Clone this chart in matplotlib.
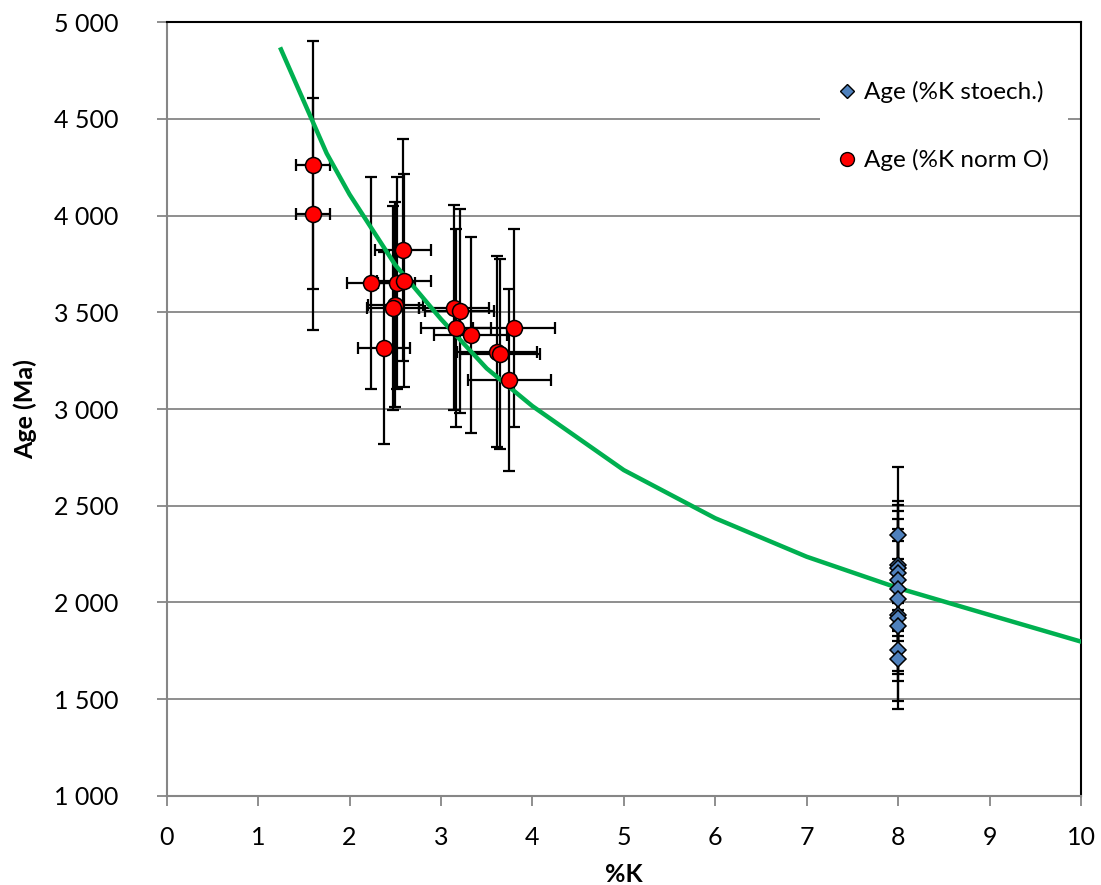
import numpy as np
import matplotlib
matplotlib.use("Agg")
import matplotlib.pyplot as plt
from matplotlib.lines import Line2D
from matplotlib.ticker import FuncFormatter, MultipleLocator

plt.rcParams['font.family'] = ['Lato', 'DejaVu Sans']

# --- data ---
# Age (%K norm O): red circles
k_norm = [1.60, 1.60, 2.585, 2.24, 2.515, 2.596, 2.50, 2.475, 2.38,
          3.14, 3.205, 3.165, 3.325, 3.796, 3.614, 3.643, 3.749]
age_norm = [4262, 4007, 3821, 3650, 3650, 3664, 3539, 3521, 3315,
            3524, 3507, 3420, 3383, 3420, 3296, 3284, 3150]
age_norm_err = [640, 600, 573, 548, 548, 550, 531, 528, 497,
                529, 526, 513, 507, 513, 494, 493, 473]
k_norm_err = [0.19, 0.19, 0.31, 0.27, 0.20, 0.30, 0.30, 0.28, 0.285,
              0.38, 0.38, 0.38, 0.40, 0.45, 0.44, 0.44, 0.45]

# Age (%K stoech.): blue diamonds
k_stoech = [8, 8, 8, 8, 8, 8, 8, 8, 8, 8, 8, 8]
age_stoech = [2348, 2193, 2179, 2150, 2115, 2067, 2016, 1934, 1917, 1877, 1753, 1705]
age_stoech_err = [352, 329, 327, 323, 317, 310, 302, 290, 288, 282, 263, 256]

# green reference curve
k_curve = [1.25, 1.75, 2.0, 2.5, 3.0, 3.5, 4.0, 5.0, 6.0, 7.0, 8.0, 9.0, 10.0]
age_curve = [4860, 4322, 4110, 3745, 3465, 3210, 3015, 2684, 2435, 2236, 2074, 1935, 1797]

fig = plt.figure(figsize=(11.01, 8.85), dpi=100)
ax = fig.add_axes([0.1514, 0.1009, 0.9818 - 0.1514, 0.9748 - 0.1009])

grid_col = '#868686'

# error bars under the curve, markers on top
ax.errorbar(k_norm, age_norm, yerr=age_norm_err, xerr=k_norm_err, fmt='none',
            ecolor='black', elinewidth=1.6, capsize=4.5, capthick=1.6, zorder=2)
ax.errorbar(k_stoech, age_stoech, yerr=age_stoech_err, fmt='none',
            ecolor='black', elinewidth=1.6, capsize=4.5, capthick=1.6, zorder=2)

ax.plot(k_curve, age_curve, color='#00B050', lw=3.2, zorder=3,
        solid_joinstyle='round')

ax.plot(k_norm, age_norm, 'o', ms=11.5, mfc='#FF0000', mec='black', mew=1.1,
        ls='none', zorder=4)
ax.plot(k_stoech, age_stoech, 'D', ms=8.5, mfc='#4F81BD', mec='black', mew=1.1,
        ls='none', zorder=4)

ax.set_xlim(0, 10)
ax.set_ylim(1000, 5000)
ax.xaxis.set_major_locator(MultipleLocator(1))
ax.yaxis.set_major_locator(MultipleLocator(500))
ax.yaxis.set_major_formatter(FuncFormatter(lambda v, p: f"{int(v):,}".replace(",", " ")))

ax.grid(axis='y', color=grid_col, lw=1.3, zorder=0)
ax.set_axisbelow(True)

for s in ['top', 'right']:
    ax.spines[s].set_color('black')
    ax.spines[s].set_linewidth(1.5)
for s in ['left', 'bottom']:
    ax.spines[s].set_color(grid_col)
    ax.spines[s].set_linewidth(1.5)

ax.tick_params(axis='y', direction='out', length=7, width=1.3, color=grid_col,
               labelsize=18, pad=28)
ax.tick_params(axis='x', direction='out', length=7, width=1.3, color=grid_col,
               labelsize=18, pad=15)

ax.set_xlabel('%K', fontsize=18, fontweight='bold', labelpad=10)
ax.set_ylabel('Age (Ma)', fontsize=18, fontweight='bold', labelpad=12)

handles = [
    Line2D([], [], marker='D', ls='none', ms=7, mfc='#4F81BD', mec='black', mew=1.0,
           label='Age (%K stoech.)'),
    Line2D([], [], marker='o', ls='none', ms=10, mfc='#FF0000', mec='black', mew=1.0,
           label='Age (%K norm O)'),
]
leg = ax.legend(handles=handles, loc='upper right', bbox_to_anchor=(0.9995, 0.965),
                fontsize=17.5, frameon=True, fancybox=False, handlelength=0.6,
                handletextpad=0.4, labelspacing=1.9, borderpad=0.8)
leg.get_frame().set_facecolor('white')
leg.get_frame().set_edgecolor('none')
leg.get_frame().set_alpha(1.0)

fig.savefig('out.png', dpi=100)
